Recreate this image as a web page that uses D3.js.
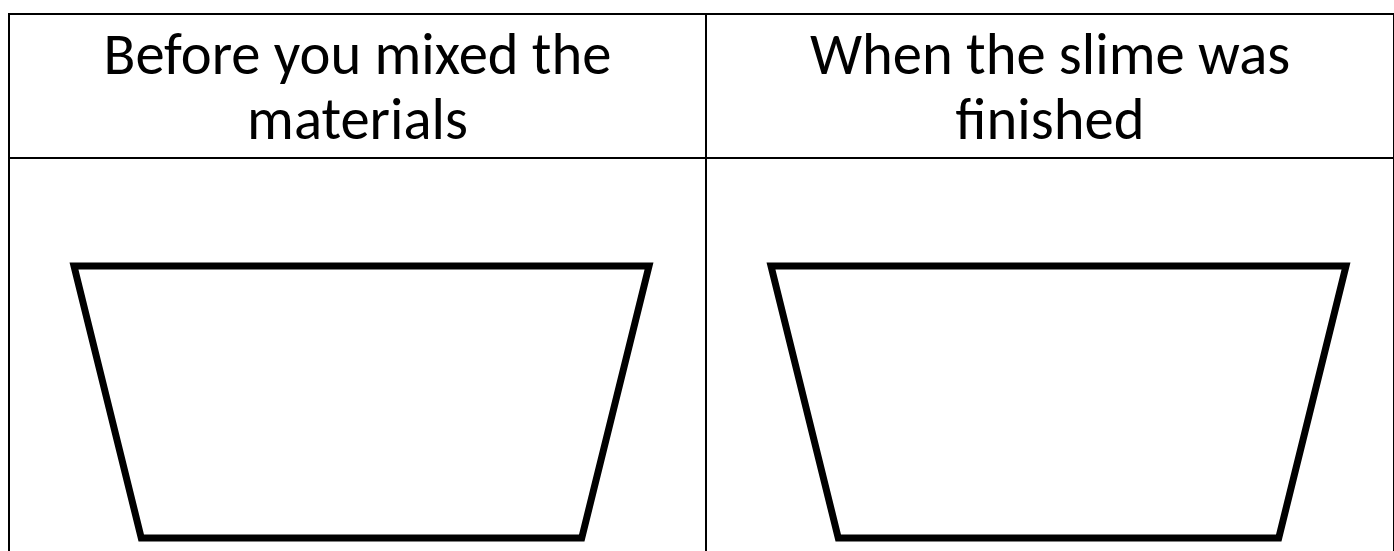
<!DOCTYPE html>
<html>
<head>
<meta charset="utf-8">
<script src="https://cdn.jsdelivr.net/npm/d3@7"></script>
<style>
  html, body { margin: 0; padding: 0; background: #fff; overflow: hidden; }
  svg { display: block; }
</style>
</head>
<body>
<svg id="sheet" width="1394" height="551"></svg>
<script>
// table content
const headers = ['Before you mixed the materials', 'When the slime was finished'];
const headerLines = [['Before you mixed the', 'materials'], ['When the slime was', 'finished']];
// cup outline, as fractions of the cup box (top edge wide, bottom narrow)
const cupShape = [[0, 0], [1, 0], [0.883, 1], [0.117, 1]];

const W = 1394, H = 551;
const svg = d3.select('#sheet');

//Layout
const colEdges = [9, 706, 1394];
const tableTop = 14, headBottom = 158;
const cupTop = 266, cupBottom = 538;
const cupInsetL = 65, cupInsetR = 57;

// background
svg.append('rect').attr('width', W).attr('height', H).attr('fill', '#fff');

const grid = svg.append('g')
    .attr('stroke', '#000')
    .attr('stroke-width', 2.5)
    .attr('shape-rendering', 'crispEdges');

// horizontal rules
[tableTop, headBottom].forEach(y => {
    grid.append('line')
        .attr('x1', colEdges[0] - 1).attr('x2', W + 2)
        .attr('y1', y).attr('y2', y);
});
// vertical rules
colEdges.forEach(x => {
    grid.append('line')
        .attr('x1', x).attr('x2', x)
        .attr('y1', tableTop - 1).attr('y2', H + 2);
});

// header text
const head = svg.append('g')
    .attr('font-family', "Carlito, Calibri, 'Open Sans', sans-serif")
    .attr('fill', '#000');

const cells = head.selectAll('g')
    .data(headerLines)
    .join('g')
    .attr('transform', (d, i) => `translate(${(colEdges[i] + colEdges[i + 1]) / 2},0)`);

cells.selectAll('text')
    .data(d => d)
    .join('text')
    .attr('text-anchor', 'middle')
    .attr('y', (d, i) => i === 0 ? 74 : 139)
    .attr('font-size', 50)
    .text(d => d);

// fit the font size so the first line spans like the reference
const probe = cells.select('text').node();
const w0 = probe.getComputedTextLength();
const fitSize = 50 * 508 / w0;
head.selectAll('text').attr('font-size', fitSize);

// cups
const cupX = d3.scaleLinear().domain([0, 1]);
const cupY = d3.scaleLinear().domain([0, 1]).range([cupTop, cupBottom]);
const cupLine = d3.line()
    .x(p => cupX(p[0]))
    .y(p => cupY(p[1]))
    .curve(d3.curveLinearClosed);

svg.append('g')
    .selectAll('path')
    .data(headers)
    .join('path')
    .attr('d', (d, i) => {
        cupX.range([colEdges[i] + cupInsetL,
                    colEdges[i] + (colEdges[1] - colEdges[0]) - cupInsetR]);
        return cupLine(cupShape);
    })
    .attr('fill', 'none')
    .attr('stroke', '#000')
    .attr('stroke-width', 7)
    .attr('stroke-linejoin', 'miter');
</script>
</body>
</html>
